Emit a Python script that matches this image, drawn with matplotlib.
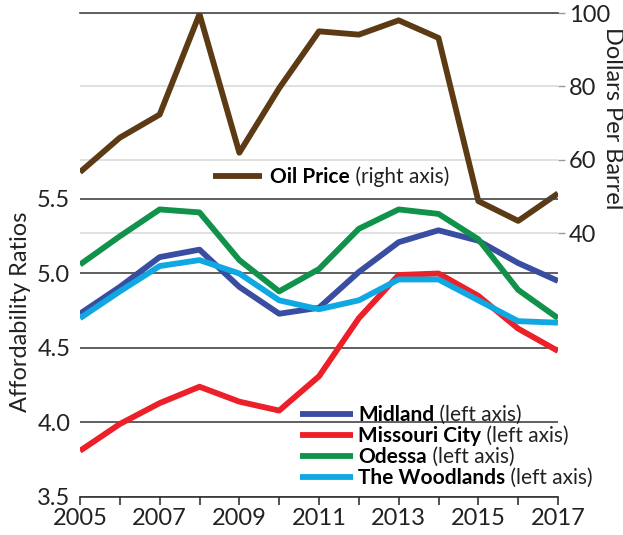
import matplotlib
matplotlib.use("Agg")
import matplotlib.pyplot as plt

plt.rcParams['font.family'] = ['Lato', 'DejaVu Sans']

# data
years = list(range(2005, 2018))
oil_price = [56.6, 66.0, 72.3, 99.7, 61.9, 79.5, 95.0, 94.1, 98.0, 93.2, 48.7, 43.3, 50.8]
midland = [4.73, 4.91, 5.11, 5.16, 4.91, 4.73, 4.77, 5.01, 5.21, 5.29, 5.22, 5.07, 4.95]
missouri_city = [3.81, 3.99, 4.13, 4.24, 4.14, 4.08, 4.31, 4.70, 4.99, 5.00, 4.85, 4.63, 4.48]
odessa = [5.06, 5.25, 5.43, 5.41, 5.09, 4.88, 5.03, 5.30, 5.43, 5.40, 5.23, 4.89, 4.70]
woodlands = [4.70, 4.88, 5.05, 5.09, 5.00, 4.82, 4.76, 4.82, 4.96, 4.96, 4.82, 4.68, 4.67]

city_names = ['Midland', 'Missouri City', 'Odessa', 'The Woodlands']
city_values = [midland, missouri_city, odessa, woodlands]
city_colors = ['#3a4ea1', '#ec2028', '#10924a', '#10a8e2']
oil_color = '#5c3a14'

left_ticks = [3.5, 4.0, 4.5, 5.0, 5.5]
right_ticks = [40, 60, 80, 100]

fig = plt.figure(figsize=(6.23, 5.35), dpi=100)
ax = fig.add_axes([80 / 623, 38 / 535, 478 / 623, 484 / 535])
ax2 = ax.twinx()
ax.set_zorder(ax2.get_zorder() + 1)
ax.patch.set_visible(False)

# oil price on the right axis
oil_line, = ax2.plot(years, oil_price, color=oil_color, lw=4.2, solid_capstyle='butt')
ax2.set_ylim(-32, 100)
ax2.set_yticks(right_ticks)
ax2.grid(axis='y', color='#dadada', lw=1.2)
for s in ['left', 'right', 'bottom']:
    ax2.spines[s].set_visible(False)
ax2.spines['top'].set_color('#444444')
ax2.spines['top'].set_linewidth(1.2)
ax2.tick_params(axis='y', length=5, width=1, color='#999999', pad=3,
                labelsize=17, labelcolor='#222222')

# affordability ratios on the left axis
handles = []
for name, vals, col in zip(city_names, city_values, city_colors):
    h, = ax.plot(years, vals, color=col, lw=4.2, solid_capstyle='butt', label=name)
    handles.append(h)

ax.set_xlim(2005, 2017)
ax.set_ylim(3.5, 3.5 + 484 / 149)
ax.set_yticks(left_ticks)
ax.set_yticklabels([f'{v:.1f}' for v in left_ticks])
ax.set_xticks(years)
ax.set_xticklabels([str(y) if (y - 2005) % 2 == 0 else '' for y in years])
ax.grid(axis='y', color='#444444', lw=1.2)
for s in ['left', 'right', 'top']:
    ax.spines[s].set_visible(False)
ax.spines['bottom'].set_color('#333333')
ax.spines['bottom'].set_linewidth(1.2)
ax.tick_params(axis='x', direction='out', length=6, width=1.2, color='#333333',
               labelsize=17, labelcolor='#222222', pad=2)
ax.tick_params(axis='y', length=0, pad=7, labelsize=17, labelcolor='#222222')

fig.text(21 / 623, 1 - 312 / 535, 'Affordability Ratios', rotation=90,
         ha='center', va='center', fontsize=17, color='#222222')
fig.text(612 / 623, 1 - 118 / 535, 'Dollars Per Barrel', rotation=270,
         ha='center', va='center', fontsize=17, color='#222222')

# legends
leg_oil = ax.legend(handles=[oil_line], labels=['Oil Price'], loc='center left',
                    bbox_to_anchor=(213 / 623, 1 - 177 / 535), bbox_transform=fig.transFigure,
                    frameon=False, borderpad=0, borderaxespad=0, handlelength=2.35,
                    handletextpad=0.38, prop={'weight': 'bold', 'size': 15})
ax.add_artist(leg_oil)
leg = ax.legend(handles=handles, loc='upper left',
                bbox_to_anchor=(300 / 623, 1 - 405 / 535), bbox_transform=fig.transFigure,
                frameon=False, borderpad=0, borderaxespad=0, handlelength=2.55,
                handletextpad=0.25, labelspacing=0.05, prop={'weight': 'bold', 'size': 15})

fig.canvas.draw()
for t in leg_oil.get_texts():
    ax.annotate(' (right axis)', xy=(1, 0), xycoords=t, va='bottom', ha='left',
                fontsize=15, color='#222222', annotation_clip=False)
for t in leg.get_texts():
    ax.annotate(' (left axis)', xy=(1, 0), xycoords=t, va='bottom', ha='left',
                fontsize=15, color='#222222', annotation_clip=False)

fig.savefig('out.png', dpi=100)
